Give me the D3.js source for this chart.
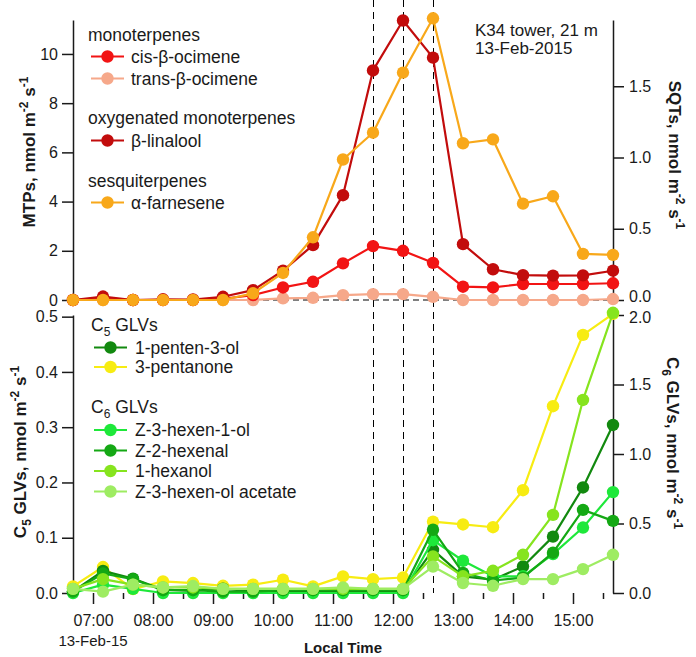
<!DOCTYPE html>
<html>
<head>
<meta charset="utf-8">
<script src="https://cdn.jsdelivr.net/npm/d3@7"></script>
<style>
  html, body { margin: 0; padding: 0; background: #fff; }
  svg { display: block; font-family: "Liberation Sans", Arial, sans-serif; }
</style>
</head>
<body>
<svg id="chart" width="696" height="657"></svg>
<script>
// ---------- data ----------
const times = ["06:40","07:10","07:40","08:10","08:40","09:10","09:40","10:10","10:40","11:10",
               "11:40","12:10","12:40","13:10","13:40","14:10","14:40","15:10","15:40"];
const eventTimes = ["11:40","12:10","12:40"];
const xTickTimes = ["07:00","07:30","08:00","08:30","09:00","09:30","10:00","10:30","11:00","11:30",
                    "12:00","12:30","13:00","13:30","14:00","14:30","15:00","15:30"];

// top panel: MTPs (left axis), SQTs (right axis)
const cisOcimene   = [0.00,0.05,0.00,0.00,0.00,0.05,0.20,0.51,0.74,1.49,2.19,2.00,1.51,0.54,0.51,0.65,0.65,0.65,0.68];
const transOcimene = [0.00,0.00,0.00,0.00,0.00,0.00,0.00,0.07,0.09,0.20,0.24,0.24,0.13,0.00,0.00,0.00,0.00,0.00,0.04];
const linalool     = [0.00,0.14,0.00,0.03,0.02,0.13,0.40,1.19,2.23,4.26,9.33,11.36,9.85,2.27,1.25,1.01,0.99,1.00,1.19];
const farnesene    = [0.00,0.00,0.00,0.00,0.00,0.00,0.047,0.19,0.44,0.986,1.174,1.596,1.977,1.10,1.127,0.676,0.728,0.324,0.317];

// bottom panel: C5 GLVs (left axis), C6 GLVs (right axis)
const pentenol   = [0.003,0.040,0.026,0.006,0.004,0.008,0.003,0.004,0.003,0.003,0.002,0.003,0.078,0.030,0.024,0.048,0.102,0.191,0.304];
const pentanone  = [0.012,0.047,0.007,0.021,0.018,0.013,0.015,0.024,0.012,0.030,0.025,0.028,0.129,0.124,0.119,0.186,0.338,0.467,0.505];
const hexenol    = [0.00,0.06,0.03,0.00,0.00,0.00,0.00,0.00,0.00,0.00,0.00,0.00,0.38,0.232,0.12,0.12,0.28,0.471,0.726];
const hexenal    = [0.01,0.14,0.10,0.02,0.02,0.01,0.01,0.02,0.02,0.02,0.02,0.02,0.455,0.144,0.09,0.11,0.29,0.598,0.519];
const hexanol    = [0.03,0.10,0.06,0.04,0.04,0.03,0.03,0.03,0.03,0.03,0.03,0.03,0.263,0.12,0.16,0.275,0.562,1.389,2.016];
const hexAcetate = [0.03,0.01,0.06,0.04,0.05,0.03,0.03,0.03,0.03,0.04,0.03,0.03,0.19,0.072,0.052,0.10,0.10,0.172,0.275];

const mtpTicks = [0,2,4,6,8,10];
const sqtTicks = [0,0.5,1.0,1.5];
const c5Ticks  = [0,0.1,0.2,0.3,0.4,0.5];
const c6Ticks  = [0,0.5,1.0,1.5,2.0];

// ---------- setup ----------
const parse = d3.timeParse("%H:%M");
const fmt = d3.timeFormat("%H:%M");
const svg = d3.select("#chart");
const X0 = 73, X1 = 613;
const TOP0 = 300, TOP1 = 20, BOT0 = 593, BOT1 = 315;

const x = d3.scaleTime().domain([parse("06:40"), parse("15:40")]).range([X0, X1]);
const yMTP = d3.scaleLinear().domain([0, 11.38]).range([TOP0, TOP1]);
const ySQT = d3.scaleLinear().domain([0, 1.965]).range([TOP0, TOP1]);
const yC5  = d3.scaleLinear().domain([0, 0.503]).range([BOT0, BOT1]);
const yC6  = d3.scaleLinear().domain([0, 2.0]).range([BOT0, BOT1]);

const tDates = times.map(parse);
const ink = "#1a1a1a";

// dashed reference lines
svg.append("g").selectAll("line").data(eventTimes.map(parse)).join("line")
  .attr("x1", d => x(d)).attr("x2", d => x(d))
  .attr("y1", 0).attr("y2", BOT0)
  .attr("stroke", "#000").attr("stroke-width", 1).attr("stroke-dasharray", "7,5")
  .attr("shape-rendering", "crispEdges");
svg.append("line")
  .attr("x1", X0).attr("x2", X1).attr("y1", yMTP(0)).attr("y2", yMTP(0))
  .attr("stroke", "#000").attr("stroke-width", 1.2).attr("stroke-dasharray", "6,4");

// ---------- axes ----------
function styleAxis(g) {
  g.selectAll("path.domain").attr("stroke", ink).attr("stroke-width", 1.5);
  g.selectAll(".tick line").attr("stroke", ink).attr("stroke-width", 1.5);
  g.selectAll(".tick text").attr("fill", ink).attr("font-size", 16)
    .attr("font-family", "'Liberation Sans', Arial, sans-serif");
}
svg.append("g").attr("transform", `translate(${X0},0)`)
  .call(d3.axisLeft(yMTP).tickValues(mtpTicks).tickSize(11).tickSizeOuter(0).tickPadding(4))
  .call(styleAxis);
const sqtAxis = svg.append("g").attr("transform", `translate(${X1},0)`)
  .call(d3.axisRight(ySQT).tickValues(sqtTicks).tickFormat(d3.format(".1f")).tickSize(11).tickSizeOuter(0).tickPadding(5))
  .call(styleAxis);
sqtAxis.selectAll(".tick").filter(d => d === 0).select("text").attr("dy", "0.1em");
svg.append("g").attr("transform", `translate(${X0},0)`)
  .call(d3.axisLeft(yC5).tickValues(c5Ticks).tickFormat(d3.format(".1f")).tickSize(11).tickSizeOuter(0).tickPadding(4))
  .call(styleAxis);
const c6Axis = svg.append("g").attr("transform", `translate(${X1},0)`)
  .call(d3.axisRight(yC6).tickValues(c6Ticks).tickFormat(d3.format(".1f")).tickSize(11).tickSizeOuter(0).tickPadding(5))
  .call(styleAxis);
c6Axis.selectAll(".tick").filter(d => d === 2).select("text").attr("dy", "0.45em");

const xAxisG = svg.append("g").attr("transform", `translate(0,${BOT0})`)
  .call(d3.axisBottom(x).tickValues(xTickTimes.map(parse))
        .tickFormat(d => d.getMinutes() === 0 ? fmt(d) : "").tickSize(11).tickPadding(12))
  .call(styleAxis);
xAxisG.select("path.domain").remove();
xAxisG.selectAll(".tick text").attr("y", 22).attr("dy", "0.71em");
xAxisG.selectAll(".tick").filter(d => d.getMinutes() !== 0).select("line").attr("y2", 6);
svg.append("text").attr("x", x(parse("07:00"))).attr("y", 646)
  .attr("text-anchor", "middle").attr("font-size", 15).attr("fill", ink).text("13-Feb-15");
svg.append("text").attr("x", 343).attr("y", 653)
  .attr("text-anchor", "middle").attr("font-size", 15).attr("font-weight", "bold").attr("fill", ink).text("Local Time");

// rotated axis titles
function axisTitle(cx, cy, angle, parts) {
  const t = svg.append("text").attr("transform", `translate(${cx},${cy}) rotate(${angle})`)
    .attr("text-anchor", "middle").attr("font-size", 17).attr("font-weight", "bold").attr("fill", ink);
  let shift = 0;
  parts.forEach(p => {
    const target = p.sup ? -7 : (p.sub ? 5 : 0);
    t.append("tspan").attr("dy", target - shift).attr("font-size", (p.sup || p.sub) ? 12 : 17).text(p.t);
    shift = target;
  });
}
const unitParts = [{t:" nmol m"},{t:"-2",sup:true},{t:" s"},{t:"-1",sup:true}];
axisTitle(35, 152, -90, [{t:"MTPs,"}].concat(unitParts));
axisTitle(26, 452, -90, [{t:"C"},{t:"5",sub:true},{t:" GLVs,"}].concat(unitParts));
axisTitle(669, 155, 90, [{t:"SQTs,"}].concat(unitParts));
axisTitle(667, 443, 90, [{t:"C"},{t:"6",sub:true},{t:" GLVs,"}].concat(unitParts));

// ---------- series ----------
function drawSeries(values, yScale, color) {
  const g = svg.append("g");
  const line = d3.line().x((d, i) => x(tDates[i])).y(d => yScale(d));
  g.append("path").datum(values).attr("d", line)
    .attr("fill", "none").attr("stroke", color).attr("stroke-width", 2.2).attr("stroke-linejoin", "round");
  g.selectAll("circle").data(values).join("circle")
    .attr("cx", (d, i) => x(tDates[i])).attr("cy", d => yScale(d)).attr("r", 6.2).attr("fill", color);
}
const colors = {
  cis: "#f21414", trans: "#f6a88a", linalool: "#c20c0c", farnesene: "#f8a81a",
  pentenol: "#12890f", pentanone: "#f7ec12", hexenol: "#1ee83a", hexenal: "#14a814",
  hexanol: "#86e41e", acetate: "#9eec62"
};
drawSeries(pentanone, yC5, colors.pentanone);
drawSeries(pentenol, yC5, colors.pentenol);
drawSeries(hexenol, yC6, colors.hexenol);
drawSeries(hexenal, yC6, colors.hexenal);
drawSeries(hexanol, yC6, colors.hexanol);
drawSeries(hexAcetate, yC6, colors.acetate);

drawSeries(transOcimene, yMTP, colors.trans);
drawSeries(cisOcimene, yMTP, colors.cis);
drawSeries(linalool, yMTP, colors.linalool);
drawSeries(farnesene, ySQT, colors.farnesene);

// ---------- legends ----------
const LFS = 17.5;
function header(x0, y0, parts) {
  const t = svg.append("text").attr("x", x0).attr("y", y0).attr("font-size", LFS).attr("fill", ink);
  parts.forEach(p => {
    if (p.sub) t.append("tspan").attr("dy", 5).attr("font-size", 12).text(p.t);
    else t.append("tspan").attr("dy", p.after ? -5 : 0).text(p.t);
  });
}
function entry(lx1, lx2, tx, cy, color, label) {
  svg.append("line").attr("x1", lx1).attr("x2", lx2).attr("y1", cy).attr("y2", cy)
    .attr("stroke", color).attr("stroke-width", 2.2);
  svg.append("circle").attr("cx", (lx1 + lx2) / 2).attr("cy", cy).attr("r", 6.2).attr("fill", color);
  svg.append("text").attr("x", tx).attr("y", cy + 6).attr("font-size", LFS).attr("fill", ink).text(label);
}
header(88, 41, [{t:"monoterpenes"}]);
entry(91, 124, 131, 56.5, colors.cis, "cis-β-ocimene");
entry(91, 124, 131, 78.5, colors.trans, "trans-β-ocimene");
header(88, 124, [{t:"oxygenated monoterpenes"}]);
entry(91, 124, 131, 140.5, colors.linalool, "β-linalool");
header(88, 187, [{t:"sesquiterpenes"}]);
entry(91, 124, 131, 202.5, colors.farnesene, "α-farnesene");

header(91, 331, [{t:"C"},{t:"5",sub:true},{t:" GLVs",after:true}]);
entry(94, 127, 135, 347.5, colors.pentenol, "1-penten-3-ol");
entry(94, 127, 135, 367, colors.pentanone, "3-pentanone");
header(91, 413, [{t:"C"},{t:"6",sub:true},{t:" GLVs",after:true}]);
entry(94, 127, 135, 430, colors.hexenol, "Z-3-hexen-1-ol");
entry(94, 127, 135, 450.5, colors.hexenal, "Z-2-hexenal");
entry(94, 127, 135, 471, colors.hexanol, "1-hexanol");
entry(94, 127, 135, 491.5, colors.acetate, "Z-3-hexen-ol  acetate");

svg.append("text").attr("x", 475).attr("y", 36).attr("font-size", 17).attr("fill", ink).text("K34 tower, 21 m");
svg.append("text").attr("x", 475).attr("y", 54).attr("font-size", 17).attr("fill", ink).text("13-Feb-2015");
</script>
</body>
</html>
